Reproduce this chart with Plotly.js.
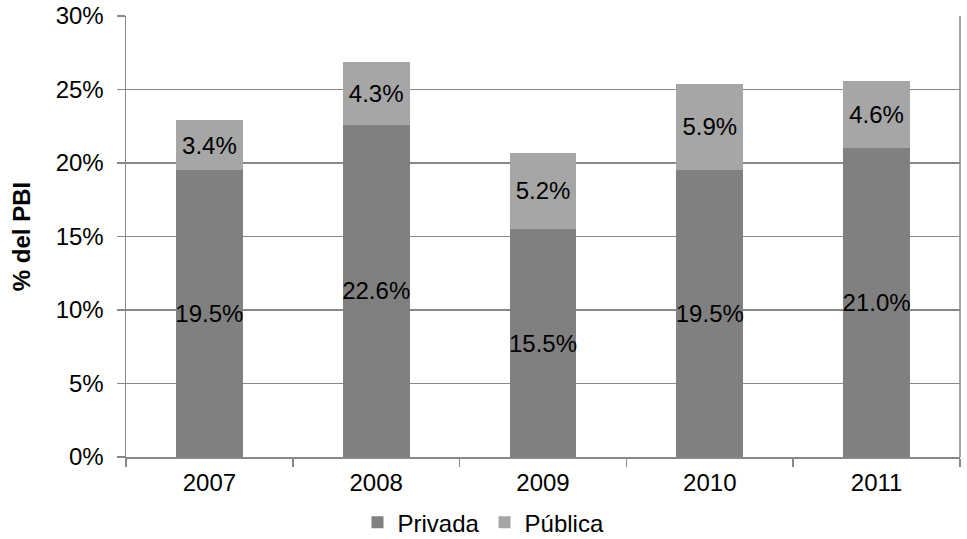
<!DOCTYPE html>
<html>
<head>
<meta charset="utf-8">
<script src="https://cdn.plot.ly/plotly-3.0.1.min.js"></script>
<style>html,body{margin:0;padding:0;background:#fff;}#chart{width:967px;height:539px;}</style>
</head>
<body>
<div id="chart"></div>
<script>
const years = ['2007', '2008', '2009', '2010', '2011'];
const privada = [19.5, 22.6, 15.5, 19.5, 21.0];
const publica = [3.4, 4.3, 5.2, 5.9, 4.6];
const yTickVals = [0, 5, 10, 15, 20, 25, 30];
const yTickText = ['0%', '5%', '10%', '15%', '20%', '25%', '30%'];

const font = {family: 'Liberation Sans, Arial, sans-serif', size: 24, color: '#000'};

const traces = [
  {type: 'bar', name: 'Privada', x: years, y: privada,
   marker: {color: '#808080'},
   text: privada.map(v => v.toFixed(1) + '%'), textposition: 'inside', textangle: 0,
   insidetextanchor: 'middle', constraintext: 'none',
   textfont: font, insidetextfont: font, hoverinfo: 'skip'},
  {type: 'bar', name: 'Pública', x: years, y: publica,
   marker: {color: '#a6a6a6'},
   text: publica.map(v => v.toFixed(1) + '%'), textposition: 'inside', textangle: 0,
   insidetextanchor: 'middle', constraintext: 'none',
   textfont: font, insidetextfont: font, hoverinfo: 'skip'}
];

const layout = {
  width: 967, height: 539,
  margin: {l: 126, r: 7, t: 16, b: 82, autoexpand: false},
  barmode: 'stack', bargap: 0.6,
  paper_bgcolor: '#fff', plot_bgcolor: '#fff',
  font: font,
  showlegend: true,
  legend: {orientation: 'h', x: 0.5, xanchor: 'center', xref: 'container',
           y: 0.072, yanchor: 'top', yref: 'container',
           font: font, traceorder: 'normal', itemwidth: 30, tracegroupgap: 0},
  xaxis: {type: 'category', tickfont: font, showgrid: false, automargin: false,
          ticklabelstandoff: 4,
          showline: true, linecolor: '#888', linewidth: 1.5,
          ticks: 'outside', tickson: 'boundaries', ticklen: 8, tickcolor: '#888', tickwidth: 1.5},
  yaxis: {range: [0, 30], tickvals: yTickVals, ticktext: yTickText, tickfont: font,
          automargin: false, ticklabelstandoff: 8,
          showgrid: true, gridcolor: '#888', gridwidth: 1.5,
          showline: true, linecolor: '#888', linewidth: 1.5,
          ticks: 'outside', ticklen: 8, tickcolor: '#888', tickwidth: 1.5,
          zeroline: false, mirror: false,
          title: {text: '<b>% del PBI</b>', font: font, standoff: 18}},
  shapes: [{type: 'line', xref: 'paper', yref: 'paper', x0: 1, x1: 1, y0: 0, y1: 1,
            line: {color: '#888', width: 1.5}}]
};

Plotly.newPlot('chart', traces, layout, {displayModeBar: false, staticPlot: true});
</script>
</body>
</html>
